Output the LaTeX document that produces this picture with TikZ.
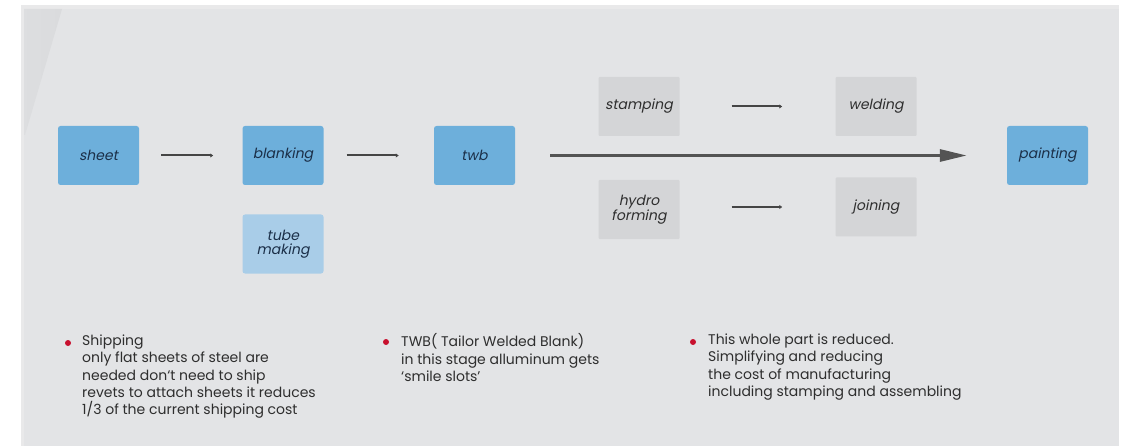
\documentclass[tikz,border=0pt]{standalone}
\usepackage{fontspec}
\setmainfont{Poppins}
\newfontfamily\boxfont{Poppins}[FakeSlant=0.2]
\usetikzlibrary{arrows.meta}
\definecolor{panel}{HTML}{E3E4E6}
\definecolor{panelrim}{HTML}{E9E9EA}
\definecolor{stripe}{HTML}{DADBDD}
\definecolor{bluebox}{HTML}{6DAFDB}
\definecolor{lightblue}{HTML}{A9CDE8}
\definecolor{graybox}{HTML}{D4D5D7}
\definecolor{navytext}{HTML}{1B2F48}
\definecolor{darktext}{HTML}{2E2E2E}
\definecolor{arrowgray}{HTML}{454545}
\definecolor{bulletred}{HTML}{C8102E}
\tikzset{
  procbox/.style={rounded corners=2.5pt, minimum width=81pt, minimum height=59pt, inner sep=0pt,
    align=center, font=\boxfont\fontsize{14}{14.5}\selectfont},
  bluestep/.style={procbox, fill=bluebox, text=navytext},
  lightstep/.style={procbox, fill=lightblue, text=navytext},
  graystep/.style={procbox, fill=graybox, text=darktext, rounded corners=1pt},
  smallarrow/.style={draw=arrowgray, line width=2pt, -{Latex[length=3pt,width=4.5pt]}},
  bigarrow/.style={draw=arrowgray!92!white, line width=3pt, -{Triangle[length=27pt,width=12pt]}},
  note/.style={anchor=north west, align=left, inner sep=0pt, text=darktext,
    font=\fontsize{14}{17.4}\selectfont},
  dot/.style={circle, fill=bulletred, minimum size=6pt, inner sep=0pt}
}
\begin{document}
\begin{tikzpicture}[x=1pt,y=-1pt]
\useasboundingbox (0,0) rectangle (1123,446);
\fill[white] (0,0) rectangle (1123,446);
\fill[panelrim] (21,5) rectangle (1119,446);
\fill[panel] (24,9) rectangle (1119,446);
\shade[left color=stripe!70!panel, right color=stripe] (24,9) -- (62,9) -- (25,135) -- (24,135) -- cycle;

% nodes
\node[bluestep] (sheet) at (98.5,155.5) {sheet};
\node[bluestep] (blank) at (283,155.5) {blanking};
\node[bluestep] (twb) at (474.5,155.5) {twb};
\node[lightstep] (tube) at (283,244) {tube\\making};
\node[graystep] (stamp) at (639,106.5) {stamping};
\node[graystep] (weld) at (876,106.5) {welding};
\node[graystep] (hydro) at (639,209.5) {hydro\\forming};
\node[graystep] (join) at (876,207) {joining};
\node[bluestep] (paint) at (1047.5,155.5) {painting};

% connectors
\draw[smallarrow, shorten <=22pt, shorten >=29pt] (sheet) -- (blank);
\draw[smallarrow, shorten <=23pt, shorten >=35pt] (blank) -- (twb);
\draw[smallarrow, shorten <=52pt, shorten >=53pt] (stamp) -- (weld);
\draw[smallarrow, shorten <=52pt, shorten >=53pt] (hydro.east |- join.west) -- (join.west);
\draw[bigarrow, shorten <=35pt, shorten >=40pt] (twb.east) -- (paint.west);

% notes
\node[dot] (b1) at (68,343) {};
\node[note] (n1) at (82,334.5) {Shipping\\only flat sheets of steel are\\needed don`t need to ship\\revets to attach sheets it reduces\\1/3 of the current shipping cost};
\node[dot] (b2) at (386,342) {};
\node[note] (n2) at (401,333.5) {TWB( Tailor Welded Blank)\\in this stage alluminum gets\\‘smile slots’};
\node[dot] (b3) at (693,342) {};
\node[note] (n3) at (708,333.5) {This whole part is reduced.\\Simplifying and reducing\\the cost of manufacturing\\including stamping and assembling};
\end{tikzpicture}
\end{document}
